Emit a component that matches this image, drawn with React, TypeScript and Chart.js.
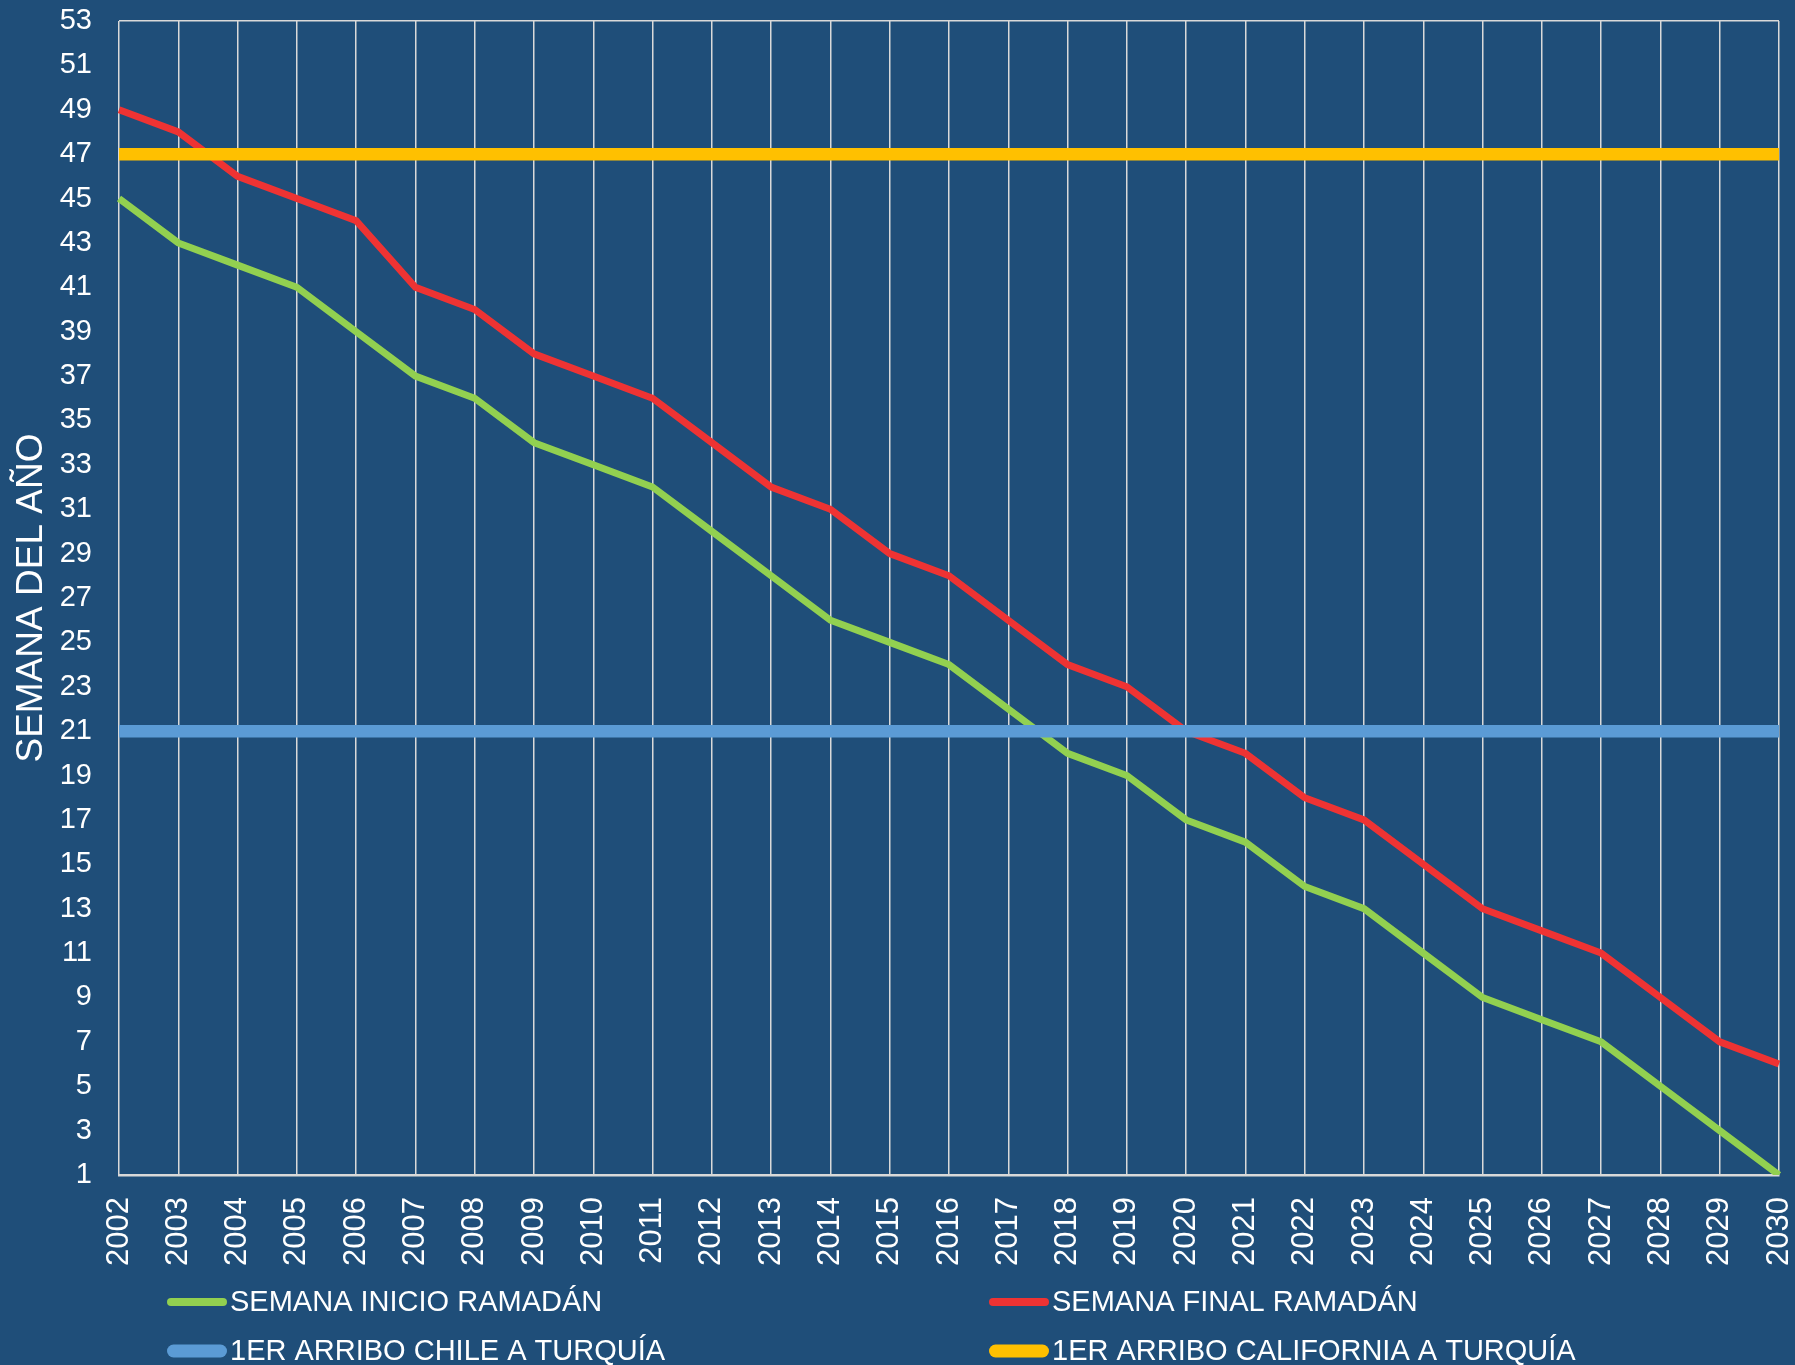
import React, { useEffect, useRef } from "react";
import { Chart, registerables } from "chart.js";

Chart.register(...registerables);

const years: string[] = [
  "2002", "2003", "2004", "2005", "2006", "2007", "2008", "2009", "2010", "2011",
  "2012", "2013", "2014", "2015", "2016", "2017", "2018", "2019", "2020", "2021",
  "2022", "2023", "2024", "2025", "2026", "2027", "2028", "2029", "2030",
];

const inicioRamadan: number[] = [
  45, 43, 42, 41, 39, 37, 36, 34, 33, 32, 30, 28, 26, 25, 24, 22, 20, 19, 17, 16,
  14, 13, 11, 9, 8, 7, 5, 3, 1,
];

const finalRamadan: number[] = [
  49, 48, 46, 45, 44, 41, 40, 38, 37, 36, 34, 32, 31, 29, 28, 26, 24, 23, 21, 20,
  18, 17, 15, 13, 12, 11, 9, 7, 6,
];

const arriboChile: number[] = years.map(() => 21);
const arriboCalifornia: number[] = years.map(() => 47);

const seriesLabels: string[] = [
  "SEMANA INICIO RAMADÁN",
  "SEMANA FINAL RAMADÁN",
  "1ER ARRIBO CHILE A TURQUÍA",
  "1ER ARRIBO CALIFORNIA A TURQUÍA",
];

const yAxisTitle = "SEMANA DEL AÑO";

const BG = "#1F4E79";
const GRID = "#D9D9D9";
const FONT = "'Liberation Sans', Arial, sans-serif";

const legendPlugin = {
  id: "gridLegend",
  afterDraw(chart: any) {
    const ctx = chart.ctx;
    const area = chart.chartArea;
    const ds = chart.data.datasets;
    const cols = [area.left + 48, area.left + 870];
    const rows = [1302, 1351];
    ctx.save();
    ctx.font = `29px ${FONT}`;
    ctx.textBaseline = "middle";
    ctx.textAlign = "left";
    ds.forEach((d: any, i: number) => {
      const cx = cols[i % 2];
      const cy = rows[Math.floor(i / 2)];
      ctx.beginPath();
      ctx.lineCap = "round";
      ctx.strokeStyle = d.borderColor;
      ctx.lineWidth = d.legendWidth;
      ctx.moveTo(cx + d.legendWidth / 2, cy);
      ctx.lineTo(cx + 60 - d.legendWidth / 2, cy);
      ctx.stroke();
      ctx.fillStyle = "#FFFFFF";
      ctx.fillText(d.label, cx + 63, cy + 1);
    });
    ctx.restore();
  },
};

export default function App() {
  const ref = useRef<HTMLCanvasElement | null>(null);

  useEffect(() => {
    if (!ref.current) return;
    const chart = new Chart(ref.current, {
      type: "line",
      data: {
        labels: years,
        datasets: [
          {
            label: seriesLabels[0],
            data: inicioRamadan,
            borderColor: "#92D050",
            borderWidth: 7,
            pointRadius: 0,
            tension: 0,
            order: 4,
            legendWidth: 8,
          } as any,
          {
            label: seriesLabels[1],
            data: finalRamadan,
            borderColor: "#EE3333",
            borderWidth: 7,
            pointRadius: 0,
            tension: 0,
            order: 3,
            legendWidth: 8,
          } as any,
          {
            label: seriesLabels[2],
            data: arriboChile,
            borderColor: "#5B9BD5",
            borderWidth: 12.5,
            pointRadius: 0,
            tension: 0,
            order: 2,
            legendWidth: 13,
          } as any,
          {
            label: seriesLabels[3],
            data: arriboCalifornia,
            borderColor: "#FFC000",
            borderWidth: 12.5,
            pointRadius: 0,
            tension: 0,
            order: 1,
            legendWidth: 13,
          } as any,
        ],
      },
      options: {
        responsive: false,
        animation: false,
        devicePixelRatio: 1,
        layout: { padding: { top: 21, right: 16, left: 0, bottom: 0 } },
        plugins: {
          legend: { display: false },
          tooltip: { enabled: false },
        },
        scales: {
          x: {
            offset: false,
            grid: { color: GRID, lineWidth: 1.5, drawTicks: false },
            border: { display: true, color: GRID, width: 2.5 },
            ticks: {
              color: "#FFFFFF",
              font: { family: FONT, size: 31 },
              maxRotation: 90,
              minRotation: 90,
              padding: 22,
              autoSkip: false,
            },
            afterFit(scale: any) {
              scale.height = 190;
              scale.paddingLeft = 0;
              scale.paddingRight = 0;
            },
          },
          y: {
            min: 1,
            max: 53,
            grid: {
              color: (c: any) => (c.tick && c.tick.value === 53 ? GRID : "rgba(0,0,0,0)"),
              lineWidth: 1.5,
              drawTicks: false,
            },
            border: { display: false },
            ticks: {
              stepSize: 2,
              color: "#FFFFFF",
              font: { family: FONT, size: 29 },
              padding: 27,
              autoSkip: false,
            },
            title: {
              display: true,
              text: yAxisTitle,
              color: "#FFFFFF",
              font: { family: FONT, size: 37 },
              padding: { top: 10, bottom: 0 },
            },
            afterFit(scale: any) {
              scale.width = 119;
              scale.paddingTop = 0;
              scale.paddingBottom = 0;
            },
          },
        },
      },
      plugins: [legendPlugin],
    });
    return () => chart.destroy();
  }, []);

  return (
    <div style={{ position: "absolute", left: 0, top: 0, width: 1795, height: 1365, background: BG }}>
      <canvas ref={ref} width={1795} height={1365} style={{ display: "block" }} />
    </div>
  );
}
